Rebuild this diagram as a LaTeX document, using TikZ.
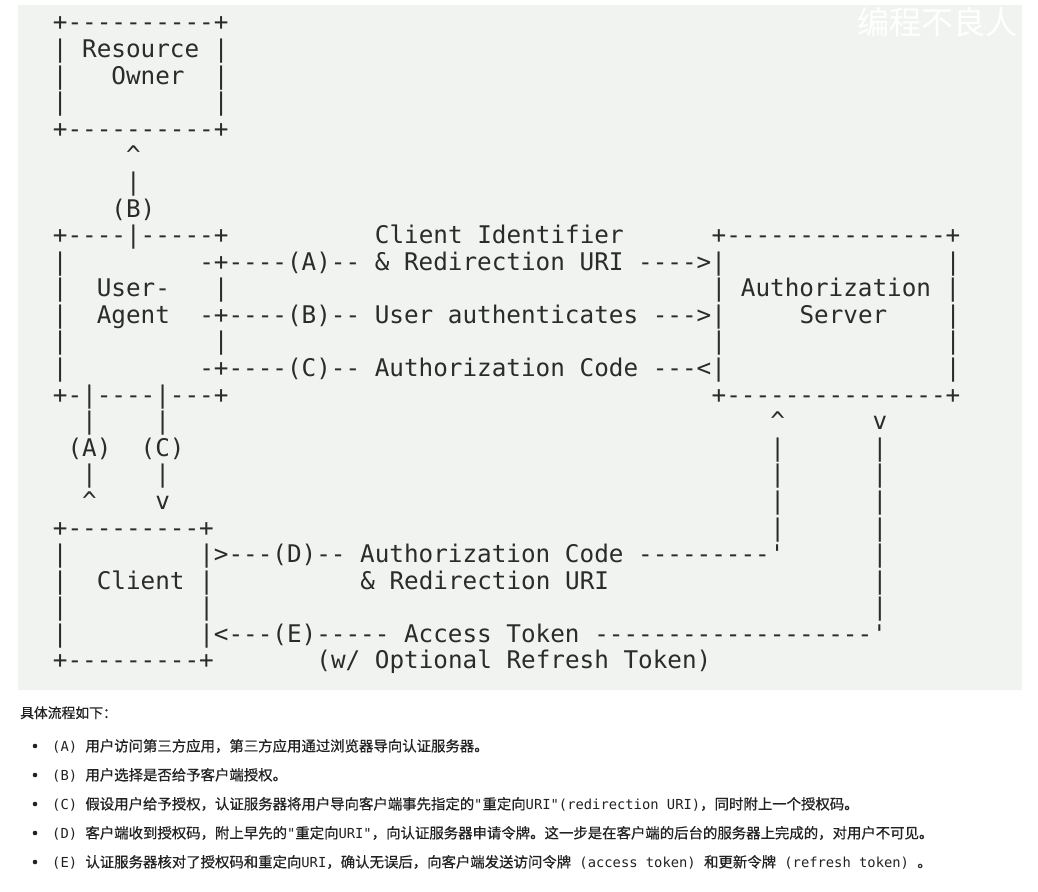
\documentclass[tikz,border=0pt]{standalone}
\usepackage{fontspec}
\newfontfamily\asciifont{DejaVu Sans Mono}[Ligatures=TeXOff]
\newfontfamily\latmono{DejaVu Sans Mono}[Ligatures=TeXOff]
\newfontfamily\cjk{Noto Sans CJK SC}[FakeBold=0.6]
\newfontfamily\cjkmark{Noto Sans CJK SC}
\newcommand{\lm}{\latmono\fontsize{13.8}{16}\selectfont}
\definecolor{panel}{HTML}{F0F3EF}
\definecolor{ink}{HTML}{2B2B2B}
\definecolor{note}{HTML}{222222}
\frenchspacing

\begin{document}
\begin{tikzpicture}[x=1pt, y=-1pt,
  ascii/.style={font=\asciifont\fontsize{24.3}{26}\selectfont, text=ink, inner sep=0pt, anchor=base west},
  item/.style={font=\cjk\fontsize{14.4}{16}\selectfont, text=note, inner sep=0pt, anchor=base west},
  bul/.style={circle, fill=note, inner sep=0pt, minimum size=4.6pt}]
\useasboundingbox (0,0) rectangle (1038,891);
\fill[white] (0,0) rectangle (1038,891);
\fill[panel] (18,5) rectangle (1022,690);
\node[font=\cjkmark\fontsize{32}{32}\selectfont, text=white, anchor=west, inner sep=0pt] (mark) at (857,22) {编程不良人};

% ascii grid: one unit = one character cell
\begin{scope}[shift={(-20.52pt,-4.42pt)}, x=14.64pt, y=-26.58pt]
% Resource Owner
\node[ascii] (ro-top) at (5,1) {+----------+};
\node[ascii] (ro-name) at (5,2) {| Resource |};
\node[ascii] (ro-l3) at (5,3) {|}; \node[ascii] (ro-owner) at (9,3) {Owner}; \node[ascii] (ro-r3) at (16,3) {|};
\node[ascii] (ro-l4) at (5,4) {|}; \node[ascii] (ro-r4) at (16,4) {|};
\node[ascii] (ro-bot) at (5,5) {+----------+};
\node[ascii] (b-tip) at (10,6) {\textasciicircum};
\node[ascii] (b-bar) at (10,7) {|};
\node[ascii] (b-lab) at (9,8) {(B)};
% User-Agent and Authorization Server
\node[ascii] (ua-top) at (5,9) {+----|-----+}; \node[ascii] (a-id) at (27,9) {Client Identifier}; \node[ascii] (as-top) at (50,9) {+---------------+};
\node[ascii] (ua-l10) at (5,10) {|}; \node[ascii] (a-flow) at (15,10) {-+----(A)-- \& Redirection URI ---->|}; \node[ascii] (as-r10) at (66,10) {|};
\node[ascii] (ua-l11) at (5,11) {|}; \node[ascii] (ua-user) at (8,11) {User-}; \node[ascii] (ua-r11) at (16,11) {|}; \node[ascii] (as-name) at (50,11) {| Authorization |};
\node[ascii] (ua-l12) at (5,12) {|}; \node[ascii] (ua-agent) at (8,12) {Agent}; \node[ascii] (b-flow) at (15,12) {-+----(B)-- User authenticates --->|};
\node[ascii] (as-server) at (56,12) {Server}; \node[ascii] (as-r12) at (66,12) {|};
\node[ascii] (ua-l13) at (5,13) {|}; \node[ascii] (ua-r13) at (16,13) {|}; \node[ascii] (as-l13) at (50,13) {|}; \node[ascii] (as-r13) at (66,13) {|};
\node[ascii] (ua-l14) at (5,14) {|}; \node[ascii] (c-flow) at (15,14) {-+----(C)-- Authorization Code ---<|}; \node[ascii] (as-r14) at (66,14) {|};
\node[ascii] (ua-bot) at (5,15) {+-|----|---+}; \node[ascii] (as-bot) at (50,15) {+---------------+};
% legs (A), (C) and the server return lines
\node[ascii] (a-bar1) at (7,16) {|}; \node[ascii] (c-bar1) at (12,16) {|}; \node[ascii] (d-tip) at (54,16) {\textasciicircum}; \node[ascii] (e-tip) at (61,16) {v};
\node[ascii] (a-lab) at (6,17) {(A)}; \node[ascii] (c-lab) at (11,17) {(C)}; \node[ascii] (d-bar17) at (54,17) {|}; \node[ascii] (e-bar17) at (61,17) {|};
\node[ascii] (a-bar2) at (7,18) {|}; \node[ascii] (c-bar2) at (12,18) {|}; \node[ascii] (d-bar18) at (54,18) {|}; \node[ascii] (e-bar18) at (61,18) {|};
\node[ascii] (a-tip) at (7,19) {\textasciicircum}; \node[ascii] (c-tip) at (12,19) {v}; \node[ascii] (d-bar19) at (54,19) {|}; \node[ascii] (e-bar19) at (61,19) {|};
% Client
\node[ascii] (cl-top) at (5,20) {+---------+}; \node[ascii] (d-bar20) at (54,20) {|}; \node[ascii] (e-bar20) at (61,20) {|};
\node[ascii] (cl-l21) at (5,21) {|}; \node[ascii] (d-flow) at (15,21) {|>---(D)-- Authorization Code ---------'}; \node[ascii] (e-bar21) at (61,21) {|};
\node[ascii] (cl-l22) at (5,22) {|}; \node[ascii] (cl-name) at (8,22) {Client}; \node[ascii] (cl-r22) at (15,22) {|}; \node[ascii] (d-uri) at (26,22) {\& Redirection URI}; \node[ascii] (e-bar22) at (61,22) {|};
\node[ascii] (cl-l23) at (5,23) {|}; \node[ascii] (cl-r23) at (15,23) {|}; \node[ascii] (e-bar23) at (61,23) {|};
\node[ascii] (cl-l24) at (5,24) {|}; \node[ascii] (e-flow) at (15,24) {|<---(E)----- Access Token -------------------'};
\node[ascii] (cl-bot) at (5,25) {+---------+}; \node[ascii] (e-refresh) at (23,25) {(w/ Optional Refresh Token)};
\end{scope}

% notes below the panel
\node[item, font=\cjk\fontsize{13.8}{16}\selectfont] (head) at (20,718) {具体流程如下：};
\node[bul] (b1) at (35,746) {}; \node[item] (t1) at (52,751.3) {{\lm (A) }用户访问第三方应用，第三方应用通过浏览器导向认证服务器。};
\node[bul] (b2) at (35,775) {}; \node[item] (t2) at (52,780.3) {{\lm (B) }用户选择是否给予客户端授权。};
\node[bul] (b3) at (35,804) {}; \node[item] (t3) at (52,809.3) {{\lm (C) }假设用户给予授权，认证服务器将用户导向客户端事先指定的{\lm "}重定向{\lm URI"(redirection URI)}，同时附上一个授权码。};
\node[bul] (b4) at (35,833) {}; \node[item] (t4) at (52,838.3) {{\lm (D) }客户端收到授权码，附上早先的{\lm "}重定向{\lm URI"}，向认证服务器申请令牌。这一步是在客户端的后台的服务器上完成的，对用户不可见。};
\node[bul] (b5) at (35,862) {}; \node[item] (t5) at (52,867.3) {{\lm (E) }认证服务器核对了授权码和重定向{\lm URI}，确认无误后，向客户端发送访问令牌{\lm{} (access token) }和更新令牌{\lm{} (refresh token) }。};
\end{tikzpicture}
\end{document}
